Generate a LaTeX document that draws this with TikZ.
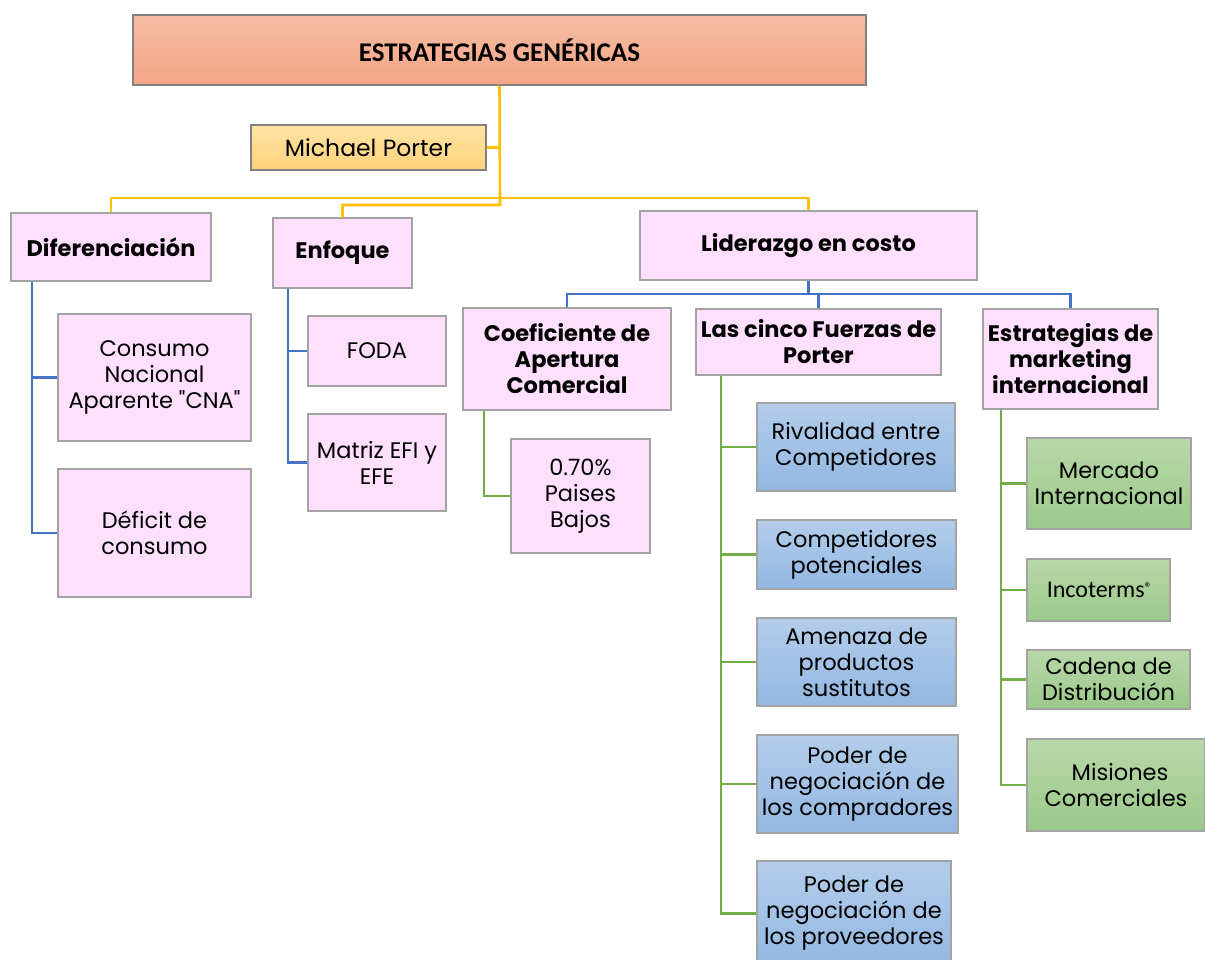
\documentclass[tikz,border=0pt]{standalone}
\usepackage{fontspec}
\setmainfont{Poppins}
\newfontfamily\popplain{Poppins}[Ligatures=TeXOff]
\newfontfamily\carlitofont{Carlito}
\usetikzlibrary{calc}
\definecolor{pinkfill}{HTML}{FEE0FE}
\definecolor{boxline}{HTML}{A3A3A3}
\definecolor{titleT}{HTML}{F6BDA3}
\definecolor{titleB}{HTML}{F4A485}
\definecolor{mpT}{HTML}{FFE3A6}
\definecolor{mpB}{HTML}{FFD27A}
\definecolor{blueT}{HTML}{B3CDEA}
\definecolor{blueB}{HTML}{93B7E2}
\definecolor{greenT}{HTML}{B8D8A9}
\definecolor{greenB}{HTML}{9BC98A}
\definecolor{yline}{HTML}{FFC000}
\definecolor{bline}{HTML}{4472C4}
\definecolor{gline}{HTML}{70AD47}
\tikzset{
  box/.style={draw=boxline, line width=1.3pt, inner sep=0pt, align=center, text=black,
    font=\fontsize{22.5}{26}\selectfont},
  pinkbox/.style={box, fill=pinkfill},
  headbox/.style={pinkbox, font=\fontsize{22.5}{26}\selectfont\bfseries},
  bluebox/.style={box, top color=blueT, bottom color=blueB},
  greenbox/.style={box, top color=greenT, bottom color=greenB},
  yl/.style={draw=yline, line width=2.6pt},
  bl/.style={draw=bline, line width=2.8pt},
  gl/.style={draw=gline, line width=2.8pt},
}
\begin{document}
\begin{tikzpicture}[x=1pt,y=-1pt]
\useasboundingbox (0,0) rectangle (1205,960);
\fill[white] (0,0) rectangle (1205,960);
\clip (0,0) rectangle (1205,960);

% top level
\node[box, draw=gray, top color=titleT, bottom color=titleB, minimum width=733, minimum height=70,
  font=\carlitofont\fontsize{27}{30}\selectfont\bfseries] (title) at (499.5,50) {ESTRATEGIAS GENÉRICAS};
\node[box, draw=gray, top color=mpT, bottom color=mpB, minimum width=235, minimum height=45,
  font=\fontsize{23.5}{26}\selectfont] (mp) at (368.5,147.5) {Michael Porter};

% three strategies
\node[headbox, minimum width=200, minimum height=68] (dif) at (111,247) {Diferenciación};
\node[headbox, minimum width=139, minimum height=70] (enf) at (342.5,253) {Enfoque};
\node[headbox, minimum width=337, minimum height=69] (lid) at (808.5,245.5) {Liderazgo en costo};

% Diferenciación
\node[pinkbox, minimum width=193, minimum height=127] (cna) at (154.5,377.5) {Consumo\\Nacional\\Aparente {\popplain"CNA"}};
\node[pinkbox, minimum width=193, minimum height=128] (def) at (154.5,533) {Déficit de\\consumo};

% Enfoque
\node[pinkbox, minimum width=138, minimum height=70] (foda) at (377,351) {FODA};
\node[pinkbox, minimum width=138, minimum height=97] (efi) at (377,462.5) {Matriz EFI y\\EFE};

% Liderazgo en costo
\node[headbox, minimum width=208, minimum height=102] (coef) at (567,359) {Coeficiente de\\Apertura\\Comercial};
\node[headbox, minimum width=245, minimum height=66] (cinco) at (818.5,342) {Las cinco Fuerzas de\\Porter};
\node[headbox, minimum width=175, minimum height=100] (mkt) at (1070.5,359) {Estrategias de\\marketing\\internacional};

\node[pinkbox, minimum width=139, minimum height=114] (pb) at (580.5,496) {0.70\%\\Paises\\Bajos};

\node[bluebox, minimum width=198, minimum height=88] (riv) at (856,447) {Rivalidad entre\\Competidores};
\node[bluebox, minimum width=199, minimum height=69] (pot) at (856.5,554.5) {Competidores\\potenciales};
\node[bluebox, minimum width=199, minimum height=88] (ame) at (856.5,662) {Amenaza de\\productos\\sustitutos};
\node[bluebox, minimum width=201, minimum height=98] (comp) at (857.5,784) {Poder de\\negociación de\\los compradores};
\node[bluebox, minimum width=194, minimum height=105] (prov) at (854,913.5) {Poder de\\negociación de\\los proveedores};

\node[greenbox, minimum width=164, minimum height=91] (mer) at (1109,483.5) {Mercado\\Internacional};
\node[greenbox, minimum width=143, minimum height=62, font=\carlitofont\fontsize{24}{26}\selectfont] (inc) at (1098.5,590)
  {Incoterms\raisebox{7pt}{\popplain\fontsize{11}{11}\selectfont ®}};
\node[greenbox, minimum width=163, minimum height=59] (cad) at (1108.5,679.5) {Cadena de\\Distribución};
\node[greenbox, minimum width=178, minimum height=92] (mis) at (1116,785) {\hspace*{8pt}Misiones\\Comerciales};

% yellow connectors
\coordinate (ybus) at (500,198);
\coordinate (ybus2) at (500,205);
\draw[yl] (title.south) -- (ybus2) -| (enf.north);
\draw[yl] (dif.north) |- (lid.north |- ybus) -- (lid.north);
\draw[yl] (mp.east) -- (mp.east -| ybus);

% blue connectors
\coordinate (bbus) at (808,294);
\draw[bl] (lid.south) -- (lid.south |- bbus);
\draw[bl] (coef.north) |- (mkt.north |- bbus) -- (mkt.north);
\draw[bl] (cinco.north) -- (cinco.north |- bbus);

\coordinate (dx) at (32,0);
\draw[bl] (dif.south -| dx) |- (def.west);
\draw[bl] (cna.west) -- (cna.west -| dx);

\coordinate (ex) at (288,0);
\draw[bl] (enf.south -| ex) |- (efi.west);
\draw[bl] (foda.west) -- (foda.west -| ex);

% green connectors
\coordinate (cx) at (484,0);
\draw[gl] (coef.south -| cx) |- (pb.west);

\coordinate (kx) at (721,0);
\draw[gl] (cinco.south -| kx) |- (prov.west);
\foreach \n in {riv,pot,ame,comp} \draw[gl] (\n.west) -- (\n.west -| kx);

\coordinate (mx) at (1001,0);
\draw[gl] (mkt.south -| mx) |- (mis.west);
\foreach \n in {mer,inc,cad} \draw[gl] (\n.west) -- (\n.west -| mx);
\end{tikzpicture}
\end{document}
